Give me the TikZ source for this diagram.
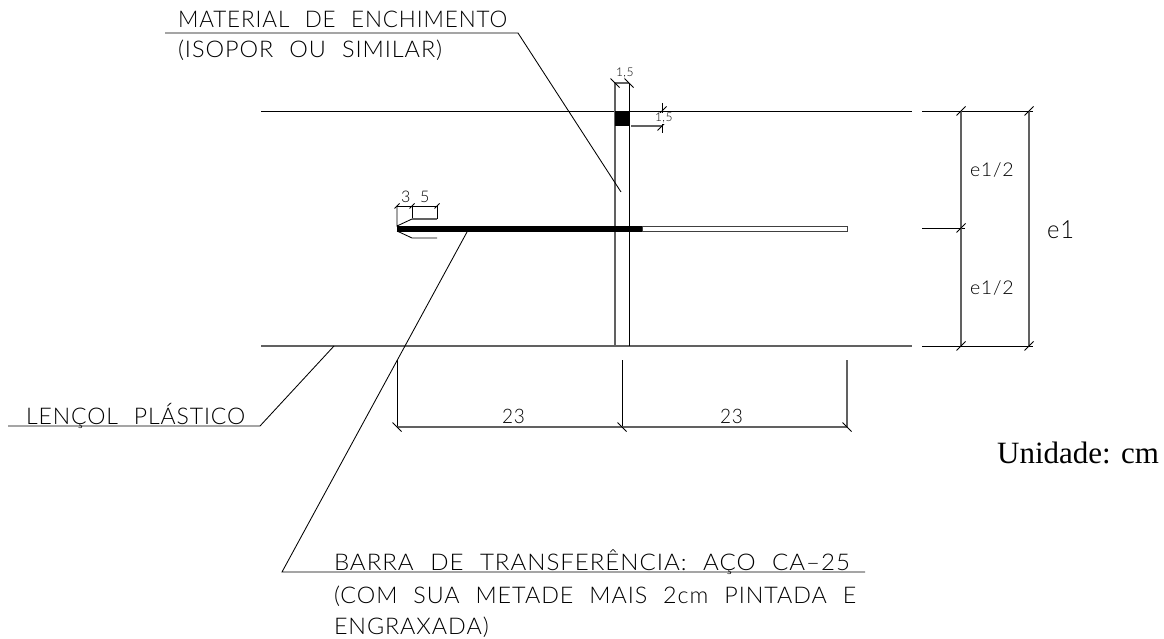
\documentclass[tikz,border=0pt]{standalone}
\usepackage{fontspec}
\setmainfont{Lato Light}[WordSpace=2.2,LetterSpace=4]
\newfontfamily\serifu{Liberation Serif}
\tikzset{
 x=1pt,y=-1pt,
 thinl/.style={line width=0.85pt,black},
 grayl/.style={line width=1.3pt,black!62},
 cad/.style={inner sep=0,outer sep=0,anchor=base west,text=black},
 tick/.style={line width=0.8pt,black},
}
\newcommand{\cadtext}[3]{\scalebox{#1}[1]{\fontsize{#2}{#2}\selectfont #3}}
\newcommand{\tk}[1]{\draw[tick] ([xshift=-4.5pt,yshift=4.5pt]#1) -- ([xshift=4.5pt,yshift=-4.5pt]#1);}
\newcommand{\tkb}[1]{\draw[tick] ([xshift=-4.5pt,yshift=-4.5pt]#1) -- ([xshift=4.5pt,yshift=4.5pt]#1);}
\newcommand{\tks}[1]{\draw[tick] ([xshift=-2.5pt,yshift=-2.5pt]#1) -- ([xshift=2.5pt,yshift=2.5pt]#1);}
\begin{document}
\begin{tikzpicture}
\useasboundingbox (0,0) rectangle (1164,639);
% slab lines
\coordinate (sl1) at (261,111); \coordinate (sr1) at (912,111);
\coordinate (sl2) at (261,346); \coordinate (sr2) at (912,346);
\draw[thinl] (sl1) -- (sr1);
\draw[grayl] (sl2) -- (sr2);
% joint
\coordinate (jt1) at (615,83); \coordinate (jb1) at (615,346);
\coordinate (jt2) at (629,83); \coordinate (jb2) at (629,346);
\draw[grayl] (jt1) -- (jb1);
\draw[thinl] (jt2) -- (jb2);
\fill[black] (615,111) rectangle (629,126);
% bar
\draw[line width=1pt,black!75,fill=white] (642,226) rectangle (847,231);
\fill[black] (397,226) rectangle (642,231.5);
% dims right
\coordinate (a1) at (922,111); \coordinate (a2) at (1033,111);
\coordinate (m1) at (922,228); \coordinate (m2) at (965,228);
\coordinate (b1) at (922,346); \coordinate (b2) at (1033,346);
\coordinate (e1t) at (961,111); \coordinate (e1m) at (961,228); \coordinate (e1b) at (961,346);
\coordinate (e2t) at (1029,111); \coordinate (e2b) at (1029,346);
\draw[thinl] (a1) -- (a2);
\draw[thinl] (m1) -- (m2);
\draw[thinl] (b1) -- (b2);
\draw[grayl] (e1t) -- (e1b);
\draw[grayl] (e2t) -- (e2b);
\tkb{e1t}\tkb{e1m}\tkb{e1b}\tkb{e2t}\tkb{e2b}
\node[cad] (e12a) at (970,177) {\cadtext{1.03}{19}{e1/2}};
\node[cad] (e12b) at (970,294) {\cadtext{1.03}{19}{e1/2}};
\node[cad] (e1n) at (1047,238) {\cadtext{0.95}{25}{e1}};
% top 1,5
\coordinate (t1) at (615,83); \coordinate (t2) at (629,83);
\draw[grayl] (t1) -- (t2); \tk{t1}\tk{t2}
\node[cad] (d15a) at (616,77) {\cadtext{1}{12}{1,5}};
\coordinate (r1) at (662,111); \coordinate (r2) at (662,126);
\coordinate (r0) at (662,103); \coordinate (r3) at (662,133);
\coordinate (rs) at (631,126);
\draw[grayl] (rs) -- (r2);
\draw[thinl] (r0) -- (r3); \tkb{r1}\tkb{r2}
\node[cad,fill=white] (d15b) at (655,122) {\cadtext{1}{12}{1,5}};
% 3 5
\coordinate (d1) at (397,206); \coordinate (d2) at (412,206); \coordinate (d3) at (437,206);
\coordinate (f1) at (397,226); \coordinate (f2) at (412,219); \coordinate (f3) at (437,219);
\coordinate (g1) at (397,231); \coordinate (g2) at (412,238); \coordinate (g3) at (437,238);
\draw[thinl] (d1) -- (d3);
\draw[thinl] (d1) -- (f1) -- (f2);
\draw[thinl] (d2) -- (f2);
\draw[grayl] (f2) -- (f3);
\draw[thinl] (f3) -- (d3);
\draw[thinl] (g1) -- (g2) -- (g3);
\tks{d1}\tks{d2}\tks{d3}
\node[cad] (n3) at (401,203) {\cadtext{1}{16}{3}};
\node[cad] (n5) at (420,203) {\cadtext{1}{16}{5}};
% bottom dims
\coordinate (h1) at (397,360); \coordinate (h2) at (622,360); \coordinate (h3) at (847,360);
\coordinate (i1) at (397,427); \coordinate (i2) at (622,427); \coordinate (i3) at (847,427);
\draw[thinl] (h1) -- (i1);
\draw[thinl] (h2) -- (i2);
\draw[grayl] (h3) -- (i3);
\draw[grayl] (i1) -- (i3);
\tk{i1}\tk{i2}\tk{i3}
\node[cad] (n23a) at (502,423) {\cadtext{0.95}{20}{23}};
\node[cad] (n23b) at (720,423) {\cadtext{0.95}{20}{23}};
% leaders
\coordinate (l1a) at (165,33); \coordinate (l1b) at (518,33); \coordinate (l1c) at (621,192);
\draw[thinl] (l1a) -- (l1b) -- (l1c);
\coordinate (l2a) at (8,426); \coordinate (l2b) at (260,426); \coordinate (l2c) at (334,346);
\draw[thinl] (l2a) -- (l2b) -- (l2c);
\coordinate (l3a) at (865,572); \coordinate (l3b) at (282,572); \coordinate (l3c) at (467,232);
\draw[thinl] (l3a) -- (l3b) -- (l3c);
% texts
\node[cad] (t1a) at (178,28) {\cadtext{0.976}{23}{MATERIAL DE ENCHIMENTO}};
\node[cad] (t1b) at (178,58) {\cadtext{1.02}{23}{(ISOPOR OU SIMILAR)}};
\node[cad] (t2a) at (26,424) {\cadtext{1}{23}{LENÇOL PLÁSTICO}};
\node[cad] (t3a) at (334,570) {\cadtext{1.048}{23}{BARRA DE TRANSFERÊNCIA: AÇO CA--25}};
\node[cad] (t3b) at (334,603) {\cadtext{1.014}{23}{(COM SUA METADE MAIS 2cm PINTADA E}};
\node[cad] (t3c) at (334,634) {\cadtext{1.015}{23}{ENGRAXADA)}};
\node[inner sep=0,anchor=base west] (un) at (997,463) {\serifu\fontsize{31}{31}\selectfont Unidade: cm};
\end{tikzpicture}
\end{document}
